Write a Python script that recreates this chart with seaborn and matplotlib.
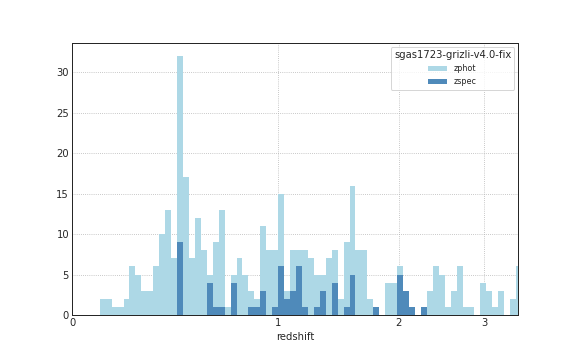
import numpy as np
import pandas as pd
import matplotlib
matplotlib.use("Agg")
import matplotlib.pyplot as plt
import seaborn as sns

# histogram bins in log10(1+z)
bin_start = 0.0405
bin_width = 0.00869
n_bins = 71

zphot_counts = [2, 2, 1, 1, 2, 6, 5, 3, 3, 6, 10, 13, 7, 32, 17, 7, 12, 8, 5, 9,
                13, 1, 5, 7, 5, 3, 2, 11, 8, 8, 15, 3, 8, 8, 8, 7, 5, 5, 7, 8,
                2, 9, 16, 8, 8, 2, 1, 0, 4, 4, 6, 3, 1, 0, 1, 3, 6, 5, 1, 3,
                6, 1, 1, 0, 4, 3, 1, 3, 0, 2, 6]
zspec_counts = [0, 0, 0, 0, 0, 0, 0, 0, 0, 0, 0, 0, 0, 9, 0, 0, 0, 0, 4, 1,
                1, 0, 4, 0, 0, 1, 1, 3, 0, 1, 6, 2, 3, 6, 1, 0, 1, 3, 0, 4,
                0, 1, 5, 0, 0, 0, 1, 0, 0, 0, 5, 3, 1, 0, 1, 0, 0, 0, 0, 0,
                0, 0, 0, 0, 0, 0, 0, 0, 0, 0, 0]

tick_z = [0, 1, 2, 3]
tick_labels = ["0", "1", "2", "3"]
y_ticks = [0, 5, 10, 15, 20, 25, 30]
legend_title = "sgas1723-grizli-v4.0-fix"
z_max_axis = 3.49

edges = bin_start + bin_width * np.arange(n_bins + 1)
centers = 0.5 * (edges[:-1] + edges[1:])
df = pd.DataFrame({"logz": centers, "zphot": zphot_counts, "zspec": zspec_counts})

sns.set_style("white")
plt.rcParams["font.family"] = ["DejaVu Sans"]

fig, ax = plt.subplots(figsize=(8, 5), dpi=72)

sns.histplot(data=df, x="logz", weights="zphot", bins=edges.tolist(), color="#add8e6",
             alpha=1.0, linewidth=0, label="zphot", ax=ax, zorder=1)
sns.histplot(data=df, x="logz", weights="zspec", bins=edges.tolist(), color="#4f8aba",
             alpha=1.0, linewidth=0, label="zspec", ax=ax, zorder=1.1)

xt = np.log10(1 + np.array(tick_z))
ax.set_xlim(0, np.log10(1 + z_max_axis))
ax.set_ylim(0, 33.6)
ax.set_xticks(xt)
ax.set_xticklabels(tick_labels)
ax.set_yticks(y_ticks)
ax.set_xlabel("redshift", fontsize=10)
ax.set_ylabel("")
ax.tick_params(direction="in", length=6, width=1, color="black", labelsize=10,
               labelcolor="#262626", pad=3)

# grid drawn beneath the bars, ticks stay on top
ax.grid(False)
for x in xt:
    ax.axvline(x, linestyle=":", color="#b0b0b0", linewidth=0.8, zorder=0.5)
for y in y_ticks:
    ax.axhline(y, linestyle=":", color="#b0b0b0", linewidth=0.8, zorder=0.5)

for sp in ax.spines.values():
    sp.set_color("#262626")
    sp.set_linewidth(1.0)

leg = ax.legend(title=legend_title, loc="upper right", fontsize=8,
                title_fontsize=10, frameon=True, handlelength=2.4)
leg.get_frame().set_edgecolor("#cccccc")

fig.subplots_adjust(left=0.125, right=0.9, bottom=0.125, top=0.88)
fig.savefig("out.png", dpi=72)
